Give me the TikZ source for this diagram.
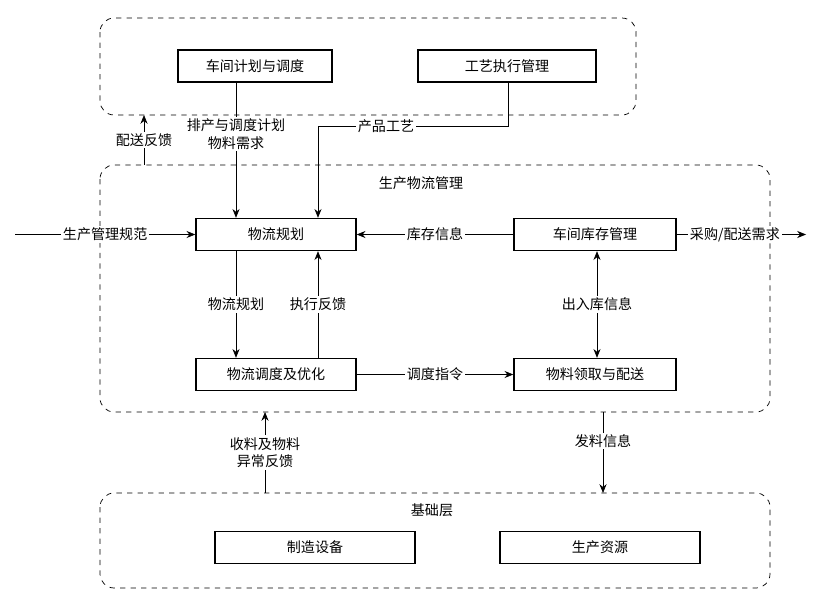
\documentclass[tikz,border=0pt]{standalone}
\usepackage{fontspec}
\setmainfont{Noto Sans CJK SC}
\usetikzlibrary{arrows.meta,positioning,calc}
\tikzset{
  blk/.style={draw, thick, minimum height=0.64cm, inner sep=0pt, font=\fontsize{8}{9}\selectfont},
  layer/.style={draw, dashed, rounded corners=8pt},
  lbl/.style={fill=white, inner sep=1pt, font=\fontsize{8}{10}\selectfont, align=center},
  arr/.style={-{Stealth[length=5pt,width=4pt]}}
}
\begin{document}
\begin{tikzpicture}[x=0.02cm,y=-0.02cm]
\useasboundingbox (0,0) rectangle (824,608);
% layers
\draw[layer] (100,18) rectangle (636,115);
\draw[layer] (100,165) rectangle (770,412);
\draw[layer] (100,493) rectangle (770,588);
\node[font=\fontsize{8}{9}\selectfont] (mid) at (421,183) {生产物流管理};
\node[font=\fontsize{8}{9}\selectfont] (base) at (432,510) {基础层};
\coordinate (topS) at (144,115);
\coordinate (midN) at (144,165);
\coordinate (midS1) at (265,412);
\coordinate (botN1) at (265,493);
\coordinate (midS2) at (603,412);
\coordinate (botN2) at (603,493);

% blocks
\node[blk, minimum width=3.08cm] (plan) at (255,66) {车间计划与调度};
\node[blk, minimum width=3.56cm] (proc) at (507,66) {工艺执行管理};
\node[blk, minimum width=3.2cm] (lgp) at (276,234.5) {物流规划};
\node[blk, minimum width=3.24cm] (inv) at (595,234.5) {车间库存管理};
\node[blk, minimum width=3.2cm] (opt) at (276,374.5) {物流调度及优化};
\node[blk, minimum width=3.24cm] (dist) at (595,374.5) {物料领取与配送};
\node[blk, minimum width=4cm] (equip) at (315,547.5) {制造设备};
\node[blk, minimum width=4cm] (res) at (600,547.5) {生产资源};
\coordinate (inL) at (15,234.5);
\coordinate (outR) at (806,234.5);

% connectors
\draw[arr] (plan.south -| 236,0) -- node[lbl, pos=0.38]{排产与调度计划\\物料需求} (lgp.north -| 236,0);
\draw[arr] (proc.south -| 508,0) |- (318,126) -- (lgp.north -| 318,0);
\node[lbl] (pp) at (386,126) {产品工艺};
\draw[arr] (midN) -- node[lbl]{配送反馈} (topS);
\draw[arr] (inL) -- node[lbl, pos=0.5]{生产管理规范} (lgp.west);
\draw[arr] (inv.west) -- node[lbl]{库存信息} (lgp.east);
\draw[arr] (inv.east) -- node[lbl, pos=0.45]{采购/配送需求} (outR);
\draw[arr] (lgp.south -| 236,0) -- node[lbl]{物流规划} (opt.north -| 236,0);
\draw[arr] (opt.north -| 318,0) -- node[lbl]{执行反馈} (lgp.south -| 318,0);
\draw[arr] (opt.east) -- node[lbl]{调度指令} (dist.west);
\draw[{Stealth[length=5pt,width=4pt]}-{Stealth[length=5pt,width=4pt]}] (inv.south -| 597,0) -- node[lbl]{出入库信息} (dist.north -| 597,0);
\draw[arr] (botN1) -- node[lbl]{收料及物料\\异常反馈} (midS1);
\draw[arr] (midS2) -- node[lbl, pos=0.36]{发料信息} (botN2);
\end{tikzpicture}
\end{document}
